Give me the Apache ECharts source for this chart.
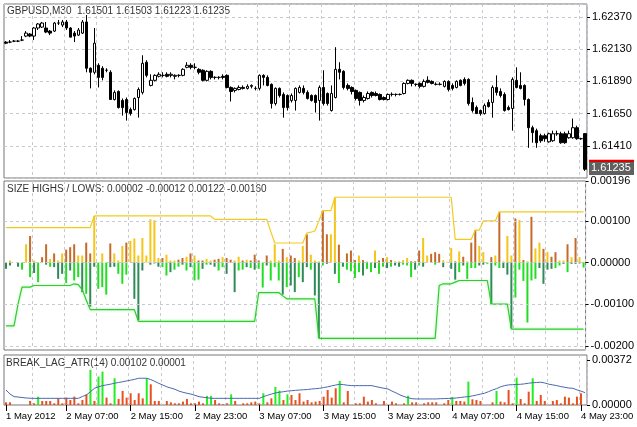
<!DOCTYPE html>
<html><head><meta charset="utf-8">
<script src="https://cdn.jsdelivr.net/npm/echarts@6/dist/echarts.min.js"></script>
<style>html,body{margin:0;padding:0;background:#fff}#c{width:637px;height:427px}</style>
</head><body><div id="c"></div>
<script>
// [open, close, low, high]
const candles = [
[1.62183,1.62175,1.62168,1.62190],[1.62183,1.62183,1.62175,1.62198],[1.62190,1.62190,1.62183,1.62198],[1.62190,1.62190,1.62183,1.62198],
[1.62198,1.62198,1.62190,1.62228],[1.62228,1.62250,1.62220,1.62265],[1.62243,1.62228,1.62220,1.62250],[1.62228,1.62288,1.62198,1.62295],
[1.62288,1.62318,1.62273,1.62325],[1.62295,1.62325,1.62288,1.62333],[1.62288,1.62258,1.62250,1.62333],[1.62265,1.62250,1.62235,1.62273],
[1.62265,1.62325,1.62258,1.62333],[1.62325,1.62325,1.62310,1.62348],[1.62310,1.62333,1.62295,1.62348],[1.62333,1.62288,1.62273,1.62348],
[1.62288,1.62220,1.62220,1.62295],[1.62250,1.62228,1.62183,1.62265],[1.62235,1.62273,1.62228,1.62288],[1.62250,1.62333,1.62243,1.62348],
[1.62333,1.61988,1.61958,1.62385],[1.61988,1.61958,1.61838,1.61995],[1.61958,1.62175,1.61943,1.62288],[1.62010,1.61920,1.61845,1.62025],
[1.61988,1.61920,1.61898,1.62003],[1.61973,1.61973,1.61958,1.61988],[1.61958,1.61755,1.61755,1.61973],[1.61755,1.61808,1.61748,1.61823],
[1.61815,1.61695,1.61688,1.61823],[1.61748,1.61695,1.61635,1.61763],[1.61755,1.61658,1.61598,1.61770],[1.61680,1.61650,1.61635,1.61695],
[1.61680,1.61763,1.61673,1.61770],[1.61770,1.61830,1.61620,1.61845],[1.61808,1.62025,1.61793,1.62085],[1.62033,1.61935,1.61920,1.62048],
[1.61860,1.61898,1.61853,1.61943],[1.61898,1.61935,1.61890,1.61943],[1.61928,1.61943,1.61920,1.61958],[1.61935,1.61935,1.61920,1.61958],
[1.61943,1.61928,1.61920,1.61958],[1.61935,1.61943,1.61920,1.61958],[1.61928,1.61935,1.61905,1.61943],[1.61935,1.61935,1.61920,1.61943],
[1.61935,1.61980,1.61928,1.61988],[1.61995,1.62010,1.61988,1.62033],[1.62010,1.61995,1.61980,1.62025],[1.61995,1.61995,1.61980,1.62025],
[1.61980,1.61958,1.61943,1.61988],[1.61973,1.61898,1.61890,1.61980],[1.61898,1.61965,1.61890,1.61973],[1.61965,1.61920,1.61905,1.61973],
[1.61920,1.61920,1.61905,1.61928],[1.61920,1.61920,1.61905,1.61928],[1.61928,1.61920,1.61905,1.61943],[1.61935,1.61845,1.61838,1.61943],
[1.61845,1.61815,1.61740,1.61853],[1.61823,1.61838,1.61808,1.61845],[1.61830,1.61845,1.61823,1.61860],[1.61845,1.61838,1.61830,1.61860],
[1.61838,1.61853,1.61830,1.61868],[1.61853,1.61860,1.61838,1.61868],[1.61838,1.61838,1.61823,1.61853],[1.61838,1.61935,1.61823,1.61943],
[1.61935,1.61920,1.61860,1.61943],[1.61920,1.61860,1.61853,1.61935],[1.61868,1.61725,1.61688,1.61875],[1.61725,1.61838,1.61710,1.61845],
[1.61838,1.61785,1.61770,1.61845],[1.61793,1.61695,1.61620,1.61808],[1.61785,1.61695,1.61673,1.61793],[1.61748,1.61785,1.61733,1.61800],
[1.61748,1.61838,1.61673,1.61845],[1.61808,1.61845,1.61800,1.61860],[1.61838,1.61808,1.61793,1.61860],[1.61808,1.61763,1.61755,1.61823],
[1.61785,1.61748,1.61740,1.61793],[1.61785,1.61733,1.61658,1.61793],[1.61748,1.61845,1.61598,1.61860],[1.61845,1.61725,1.61710,1.61973],
[1.61800,1.61725,1.61710,1.61808],[1.61673,1.61800,1.61665,1.61860],[1.61770,1.61980,1.61763,1.62145],[1.61980,1.61958,1.61905,1.62033],
[1.61965,1.61845,1.61830,1.61973],[1.61860,1.61838,1.61823,1.61875],[1.61845,1.61815,1.61793,1.61853],[1.61823,1.61763,1.61748,1.61830],
[1.61808,1.61748,1.61710,1.61815],[1.61748,1.61770,1.61733,1.61785],[1.61763,1.61800,1.61755,1.61815],[1.61808,1.61785,1.61770,1.61815],
[1.61800,1.61785,1.61778,1.61815],[1.61793,1.61755,1.61748,1.61800],[1.61770,1.61755,1.61748,1.61778],[1.61755,1.61793,1.61748,1.61800],
[1.61793,1.61793,1.61778,1.61808],[1.61793,1.61793,1.61778,1.61800],[1.61793,1.61793,1.61785,1.61800],[1.61800,1.61875,1.61793,1.61883],
[1.61875,1.61898,1.61868,1.61905],[1.61898,1.61875,1.61853,1.61905],[1.61868,1.61868,1.61853,1.61875],[1.61875,1.61853,1.61838,1.61883],
[1.61853,1.61890,1.61845,1.61905],[1.61898,1.61883,1.61875,1.61928],[1.61890,1.61875,1.61868,1.61898],[1.61868,1.61868,1.61860,1.61883],
[1.61868,1.61868,1.61860,1.61883],[1.61853,1.61890,1.61845,1.61898],[1.61890,1.61830,1.61815,1.61898],[1.61860,1.61838,1.61823,1.61875],
[1.61845,1.61890,1.61838,1.61898],[1.61898,1.61860,1.61853,1.61905],[1.61905,1.61875,1.61860,1.61920],[1.61905,1.61725,1.61710,1.61913],
[1.61733,1.61673,1.61658,1.61770],[1.61695,1.61650,1.61650,1.61710],[1.61673,1.61650,1.61635,1.61680],[1.61650,1.61710,1.61643,1.61725],
[1.61733,1.61703,1.61695,1.61755],[1.61733,1.61845,1.61620,1.61860],[1.61845,1.61808,1.61785,1.61935],[1.61815,1.61785,1.61770,1.61838],
[1.61793,1.61673,1.61665,1.61808],[1.61695,1.61680,1.61673,1.61710],[1.61688,1.61905,1.61523,1.61920],[1.61898,1.61845,1.61838,1.61995],
[1.61860,1.61838,1.61830,1.61958],[1.61860,1.61755,1.61710,1.61868],[1.61755,1.61545,1.61395,1.61763],[1.61545,1.61508,1.61433,1.61560],
[1.61523,1.61433,1.61395,1.61538],[1.61485,1.61448,1.61433,1.61500],[1.61485,1.61463,1.61440,1.61500],[1.61440,1.61500,1.61433,1.61508],
[1.61448,1.61500,1.61440,1.61523],[1.61500,1.61500,1.61485,1.61523],[1.61500,1.61433,1.61425,1.61515],[1.61500,1.61433,1.61425,1.61515],
[1.61470,1.61500,1.61463,1.61523],[1.61470,1.61545,1.61463,1.61613],[1.61545,1.61463,1.61455,1.61560],[1.61463,1.61463,1.61455,1.61470],
[1.61501,1.61235,1.61223,1.61503]
];
// SIZE HIGHS / LOWS, in points (0.00001)
const highs = [0,5,0,0,0,44,64,5,0,13,44,9,22,5,22,31,37,44,17,17,48,22,112,0,22,0,46,22,5,40,48,52,58,17,59,17,104,102,11,11,19,5,5,7,11,14,22,17,5,5,9,5,7,9,13,11,7,5,14,5,7,5,19,5,0,17,5,44,5,33,13,17,11,5,40,68,19,5,3,125,68,68,156,43,0,22,29,6,17,6,2,0,29,5,11,13,6,3,3,6,11,3,3,29,59,17,21,25,21,6,2,35,3,27,14,3,48,78,40,25,0,13,17,122,3,64,17,106,102,6,3,110,34,48,33,26,14,25,5,5,44,13,59,13,2];
const brownHighIdx = [6,9,10,12,15,16,17,20,21,26,30,39,43,44,46,48,49,52,53,55,56,59,61,62,63,65,69,71,72,75,79,80,83,85,86,87,89,90,93,94,96,101,102,103,106,107,108,112,114,116,117,121,123,127,129,131,134,136,137,140,142];
const lows = [-15,-7,0,-10,-17,0,-35,-25,-47,0,-5,-10,-11,-39,-27,-49,-19,-43,-35,-71,-75,-106,-10,-63,-59,-77,-11,-10,-27,-51,-29,0,-87,-138,-19,0,-5,-2,-10,-11,-31,-23,-17,-10,-5,-19,-11,-43,-41,-15,-5,-5,-10,-19,-11,-27,0,-71,-19,-17,-11,-13,-17,-15,-60,-7,-43,-11,-43,-77,-59,-55,-71,-35,-47,-11,-17,-79,-181,-7,-3,0,-27,-49,-10,-17,-21,-37,-23,-31,-15,-23,-13,-27,-10,-13,-10,-7,-10,-5,-7,-35,-17,-7,-10,0,0,-5,0,-11,0,-15,-41,-23,-7,-39,-13,-13,-7,-5,-3,-102,-7,-13,-13,-29,-158,-84,-17,-44,-144,-43,-39,-13,-51,-17,-15,-13,-7,-3,-23,-3,-3,-2,-12];
const darkLowIdx = [0,1,3,7,10,12,13,14,16,19,21,22,26,27,32,33,34,36,37,38,41,44,46,49,51,52,55,57,60,62,65,69,71,72,74,75,77,78,80,82,84,89,92,95,97,98,102,104,109,111,112,114,118,119,121,124,125,126,133,134,135,136,139,141,142,143];
const upper = [84,84,84,84,84,84,84,84,84,84,84,84,84,84,84,84,84,84,84,84,84,84,
112,112,112,112,112,112,112,112,112,112,112,112,112,112,112,112,112,112,112,112,112,112,112,112,112,112,112,112,112,112,
104,104,104,104,104,104,104,104,104,104,104,104,104,104,75,47,47,47,47,47,47,47,47,71,73,76,100,125,125,125,
157,157,157,157,157,157,157,157,157,157,157,157,157,157,157,157,157,157,157,157,157,157,157,157,157,157,157,157,157,157,
56,56,56,56,56,78,78,100,100,100,100,
122,122,122,122,122,122,122,122,122,122,122,122,122,122,122,122,122,122,122,122,122,122];
const lower = [-152,-152,-152,-100,-59,-59,-59,-55,-55,-55,-55,-55,-55,-55,-55,-55,-55,-51,-53,-65,-90,
-113,-113,-113,-113,-113,-113,-113,-113,-113,-113,-113,-113,
-141,-141,-141,-141,-141,-141,-141,-141,-141,-141,-141,-141,-141,-141,-141,-141,-141,-141,-141,-141,-141,-141,-141,-141,-141,-141,-141,-141,-141,-141,
-72,-72,-72,-72,-72,-72,-80,-87,-87,-87,-87,-87,-87,-87,-87,
-182,-182,-182,-182,-182,-182,-182,-182,-182,-182,-182,-182,-182,-182,-182,-182,-182,-182,-182,-182,-182,-182,-182,-182,-182,-182,-182,-182,-182,-182,
-55,-51,-51,-51,-47,-43,-43,-43,-43,-43,-43,-43,-43,-100,-100,-100,-100,-100,
-160,-160,-160,-160,-160,-160,-160,-160,-160,-160,-160,-160,-160,-160,-160,-160,-160,-160,-160];
// BREAK_LAG_ATR(14), points
const lagBars = [22,22,0,0,0,0,33,14,69,33,33,33,14,55,14,61,41,69,14,41,88,290,33,235,276,61,14,221,50,116,61,97,41,97,55,221,171,33,33,0,33,22,14,14,28,50,14,14,28,14,75,75,41,14,6,14,88,33,0,14,14,22,28,14,97,22,55,149,119,41,88,83,41,97,28,41,22,28,33,69,124,61,138,199,22,116,0,14,14,69,28,41,14,0,33,0,28,14,0,14,77,22,22,0,14,22,22,22,0,14,41,66,33,33,28,193,47,41,33,0,0,22,116,28,22,124,14,226,50,14,110,221,33,83,33,0,33,41,14,69,61,14,69,97,1];
const greenLagIdx = [8,21,23,24,27,35,50,51,56,64,67,68,70,83,100,111,115,122,127,131];
const atr = [124,90,69,66,62,58,56,55,55,55,55,55,55,55,55,55,55,55,55,70,83,110,138,150,160,166,172,180,186,192,199,205,212,221,221,221,210,195,179,165,150,140,130,115,105,97,90,80,69,64,60,55,55,55,55,55,55,55,55,55,55,55,55,55,69,80,90,100,105,110,115,118,121,124,126,128,132,135,138,144,150,158,165,171,168,163,160,160,160,160,160,160,152,145,138,132,115,100,83,70,60,52,50,50,50,50,50,50,52,53,54,55,58,62,66,69,75,82,90,97,110,124,135,150,160,166,168,170,171,175,180,184,186,188,182,172,166,160,152,146,140,138,125,115,102];
const tickLabels = ["1 May 2012","2 May 07:00","2 May 15:00","2 May 23:00","3 May 07:00","3 May 15:00","3 May 23:00","4 May 07:00","4 May 15:00","4 May 23:00"];
const titles = ["GBPUSD,M30  1.61501 1.61503 1.61223 1.61235","SIZE HIGHS / LOWS: 0.00002 -0.00012 0.00122 -0.00160","BREAK_LAG_ATR(14) 0.00102 0.00001"];
const bidPrice = 1.61235, askLine = 1.61262;

const cats = candles.map((_, i) => String(i));
const FONT = 'Liberation Sans';
const gridLine = {show: true, interval: (i) => i % 8 === 7, lineStyle: {color: '#c9c9d4', type: [3, 3], width: 1}};
const showLab = (i) => i === 0 || i % 16 === 15;
function xa(g, last) {
  return {type: 'category', gridIndex: g, data: cats, boundaryGap: true,
    axisLine: {show: false}, splitLine: gridLine,
    axisTick: last ? {show: true, interval: showLab, alignWithLabel: true, length: 6, lineStyle: {color: '#000'}} : {show: false},
    axisLabel: last ? {show: true, interval: showLab, align: 'left', margin: 6, color: '#000', fontFamily: FONT, fontSize: 9.5,
      formatter: (v, i) => tickLabels[i === 0 ? 0 : (i + 1) / 16]} : {show: false}};
}
const labStyle = {color: '#000', fontFamily: FONT, fontSize: 11, margin: 5};
const dash = {color: '#c9c9d4', type: [3, 3], width: 1};
const C = {gold: '#F5C518', brown: '#C46A2A', lime: '#22DD22', dark: '#2E8B57', orange: '#E8501E', green: '#22EE22'};

const option = {
  animation: false,
  grid: [
    {left: 4, top: 4, width: 583, height: 174, show: true, borderColor: '#777', borderWidth: 1, backgroundColor: '#fff'},
    {left: 4, top: 181, width: 583, height: 169, show: true, borderColor: '#777', borderWidth: 1, backgroundColor: '#fff'},
    {left: 4, top: 355, width: 583, height: 50, show: true, borderColor: '#777', borderWidth: 1, backgroundColor: '#fff'}
  ],
  xAxis: [xa(0, false), xa(1, false), xa(2, true)],
  yAxis: [
    {type: 'value', gridIndex: 0, position: 'right', min: 1.6117, max: 1.62467, interval: 0.0024,
      axisLine: {show: false}, axisTick: {show: true, length: 3, lineStyle: {color: '#000'}},
      splitLine: {show: true, lineStyle: dash},
      axisLabel: Object.assign({}, labStyle, {showMaxLabel: false, showMinLabel: false, formatter: v => (v < 1.612 || v > 1.624) ? '' : v.toFixed(5)})},
    {type: 'value', gridIndex: 1, position: 'right', min: -210, max: 196,
      axisLine: {show: false}, splitLine: {show: false},
      axisTick: {show: true, length: 3, lineStyle: {color: '#000'}, customValues: [196, 100, 0, -100, -200]},
      axisLabel: Object.assign({}, labStyle, {customValues: [196, 100, 0, -100, -200], formatter: v => (v / 1e5).toFixed(5)})},
    {type: 'value', gridIndex: 2, position: 'right', min: 0, max: 413,
      axisLine: {show: false}, splitLine: {show: false},
      axisTick: {show: true, length: 3, lineStyle: {color: '#000'}, customValues: [0, 372]},
      axisLabel: Object.assign({}, labStyle, {customValues: [0, 372], formatter: v => (v / 1e5).toFixed(5)})}
  ],
  graphic: [
    {type: 'text', left: 7, top: 6, style: {text: titles[0], fill: '#333', font: '10px "Liberation Sans"'}},
    {type: 'text', left: 7, top: 184, style: {text: titles[1], fill: '#333', font: '10px "Liberation Sans"'}},
    {type: 'text', left: 6, top: 358, style: {text: titles[2], fill: '#333', font: '10px "Liberation Sans"'}}
  ],
  series: [
    {type: 'candlestick', xAxisIndex: 0, yAxisIndex: 0, data: candles, barWidth: 3,
      itemStyle: {color: '#fff', color0: '#000', borderColor: '#000', borderColor0: '#000', borderWidth: 1},
      markLine: {silent: true, symbol: 'none', label: {show: false}, data: [
        {yAxis: askLine, lineStyle: {color: '#b00000', type: 'solid', width: 1}},
        {yAxis: bidPrice + 0.00003, lineStyle: {color: '#888', type: 'solid', width: 1}}
      ]}},
    {type: 'bar', xAxisIndex: 1, yAxisIndex: 1, barWidth: 2, barGap: '-100%',
      data: highs.map((v, i) => ({value: v, itemStyle: {color: brownHighIdx.includes(i) ? C.brown : C.gold}})),
      markLine: {silent: true, symbol: 'none', label: {show: false}, lineStyle: dash,
        data: [{yAxis: 100}, {yAxis: 0}, {yAxis: -100}, {yAxis: -200}]}},
    {type: 'bar', xAxisIndex: 1, yAxisIndex: 1, barWidth: 2, barGap: '-100%',
      data: lows.map((v, i) => ({value: v, itemStyle: {color: darkLowIdx.includes(i) ? C.dark : C.lime}}))},
    {type: 'line', xAxisIndex: 1, yAxisIndex: 1, data: upper, symbol: 'none',
      lineStyle: {color: '#F2CB1D', width: 1.2}},
    {type: 'line', xAxisIndex: 1, yAxisIndex: 1, data: lower, symbol: 'none',
      lineStyle: {color: '#2ECC2E', width: 1.2, shadowColor: 'rgba(60,230,60,0.45)', shadowBlur: 3}},
    {type: 'bar', xAxisIndex: 2, yAxisIndex: 2, barWidth: 2,
      data: lagBars.map((v, i) => ({value: v, itemStyle: {color: greenLagIdx.includes(i) ? C.green : C.orange}}))},
    {type: 'line', xAxisIndex: 2, yAxisIndex: 2, data: atr, symbol: 'none',
      lineStyle: {color: '#4A68B0', width: 1}}
  ]
};
const chart = echarts.init(document.getElementById('c'));
chart.setOption(option);
// price boxes on the right axis, placed through the axis scale
const yAsk = chart.convertToPixel({yAxisIndex: 0}, askLine);
const yBid = chart.convertToPixel({yAxisIndex: 0}, bidPrice + 0.00003);
chart.setOption({graphic: option.graphic.concat([
  {type: 'rect', left: 589, top: yAsk - 6, shape: {width: 45, height: 12}, style: {fill: '#e00000'}},
  {type: 'rect', left: 589, top: yBid - 7, shape: {width: 45, height: 13}, style: {fill: '#606060'}},
  {type: 'text', left: 591, top: yBid - 6, style: {text: bidPrice.toFixed(5), fill: '#fff', font: '11px "Liberation Sans"'}}
])});
</script></body></html>
